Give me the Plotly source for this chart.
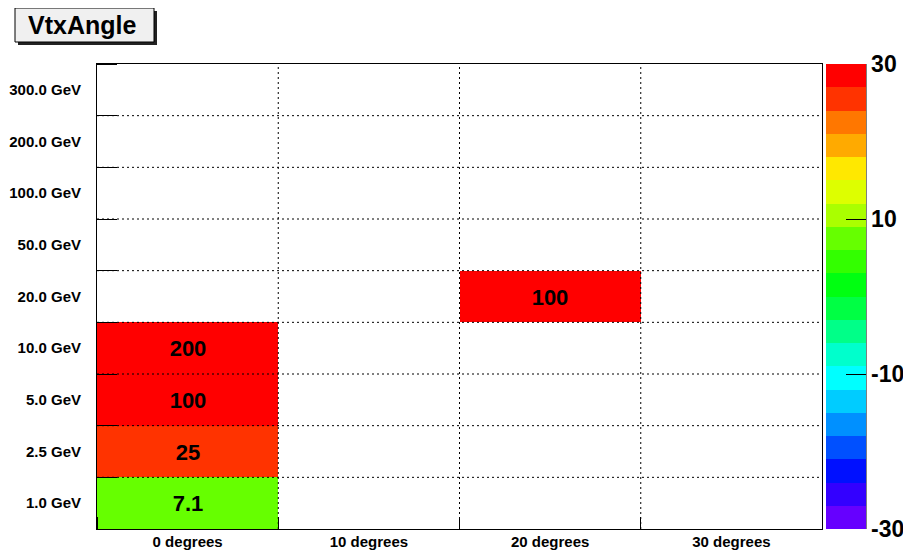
import plotly.graph_objects as go

# bin labels
angle_labels = ["0 degrees", "10 degrees", "20 degrees", "30 degrees"]
energy_labels = ["1.0 GeV", "2.5 GeV", "5.0 GeV", "10.0 GeV", "20.0 GeV",
                 "50.0 GeV", "100.0 GeV", "200.0 GeV", "300.0 GeV"]

# bin contents, one list per angle column (bottom to top), None = empty bin
col_0deg = [7.1, 25, 100, 200, None, None, None, None, None]
col_10deg = [None] * 9
col_20deg = [None, None, None, None, 100, None, None, None, None]
col_30deg = [None] * 9

cbar_ticks = [-30, -10, 10, 30]
cbar_ticktext = ["-30", "-10", "10", "30"]

# ROOT style palette, bottom (-30) to top (+30), 20 contours
palette = ["#6600ff", "#3300ff", "#0010ff", "#0050ff", "#0090ff", "#00ccff",
           "#00ffff", "#00ffcc", "#00ff88", "#00ff44", "#00ff11", "#33ff00",
           "#66ff00", "#aaff00", "#ddff00", "#ffe800", "#ffaa00", "#ff7700",
           "#ff3300", "#ff0000"]

FONT = "Liberation Sans"

cols = [col_0deg, col_10deg, col_20deg, col_30deg]
z = [[c[j] for c in cols] for j in range(len(energy_labels))]
txt = [["" if v is None else f"{v:g}" for v in row] for row in z]

n = len(palette)
cscale = []
for i, c in enumerate(palette):
    cscale.append([i / n, c])
    cscale.append([(i + 1) / n, c])

xc = [i + 0.5 for i in range(len(angle_labels))]
yc = [j + 0.5 for j in range(len(energy_labels))]

# page has an 8px body margin, so the figure starts at (8, 8) in the window
OFF = 8
W, H = 911 - OFF, 554 - OFF
# plot area in window pixels
L, R, T, B = 97, 822, 64, 529


def px(x):
    return (x - L) / (R - L)


def py(y):
    return (B - y) / (B - T)


fig = go.Figure()
fig.add_trace(go.Heatmap(
    x=xc, y=yc, z=z, text=txt, texttemplate="%{text}",
    textfont=dict(family=FONT, size=22, color="black", weight="bold"),
    colorscale=cscale, zmin=-30, zmax=30, hoverongaps=False,
    colorbar=dict(x=px(826), xanchor="left", xpad=0, thickness=40,
                  len=1, y=0.5, yanchor="middle", ypad=0,
                  tickvals=cbar_ticks, ticktext=cbar_ticktext,
                  ticks="inside", ticklen=20,
                  tickcolor="black", tickwidth=1, outlinewidth=0,
                  tickfont=dict(family=FONT, size=23, color="black", weight="bold")),
))

# dotted bin boundaries drawn over the cells
for i in range(1, len(angle_labels)):
    fig.add_shape(type="line", x0=i, x1=i, y0=0, y1=len(energy_labels),
                  line=dict(color="black", width=1, dash="2px,3px"), layer="above")
for j in range(1, len(energy_labels)):
    fig.add_shape(type="line", x0=0, x1=len(angle_labels), y0=j, y1=j,
                  line=dict(color="black", width=1, dash="2px,3px"), layer="above")

# colorbar axis line
fig.add_shape(type="line", xref="paper", yref="paper", x0=px(866), x1=px(866),
              y0=0, y1=1, line=dict(color="black", width=1))

# title pave with shadow
fig.add_shape(type="rect", xref="paper", yref="paper",
              x0=px(18), x1=px(157), y0=py(45), y1=py(11),
              fillcolor="#222222", line=dict(width=0), layer="above")
fig.add_shape(type="rect", xref="paper", yref="paper",
              x0=px(15), x1=px(154), y0=py(42), y1=py(8),
              fillcolor="#f0f0f0", line=dict(color="black", width=1), layer="above")
fig.add_annotation(xref="paper", yref="paper", x=px(81.5), y=py(25),
                   text="VtxAngle", showarrow=False, xanchor="center", yanchor="middle",
                   font=dict(family=FONT, size=25, color="black", weight="bold"))

fig.update_xaxes(range=[0, len(angle_labels)], tickvals=xc, ticktext=angle_labels,
                 ticks="", showgrid=False, zeroline=False, automargin=False,
                 showline=True, linecolor="black", linewidth=1, mirror=True,
                 layer="above traces", ticklabelstandoff=-1,
                 minor=dict(tick0=0, dtick=1, ticks="inside", ticklen=12,
                            tickcolor="black", tickwidth=1, showgrid=False),
                 tickfont=dict(family=FONT, size=15, color="black", weight="bold"))
fig.update_yaxes(range=[0, len(energy_labels)], tickvals=yc, ticktext=energy_labels,
                 ticks="", showgrid=False, zeroline=False, automargin=False,
                 showline=True, linecolor="black", linewidth=1, mirror=True,
                 layer="above traces", ticklabelstandoff=12,
                 minor=dict(tick0=0, dtick=1, ticks="inside", ticklen=20,
                            tickcolor="black", tickwidth=1, showgrid=False),
                 tickfont=dict(family=FONT, size=15, color="black", weight="bold"))

fig.update_layout(width=W, height=H,
                  margin=dict(l=L - OFF, r=W - (R - OFF), t=T - OFF, b=H - (B - OFF),
                              autoexpand=False),
                  plot_bgcolor="white", paper_bgcolor="white", showlegend=False)

fig.write_html("out.html")
